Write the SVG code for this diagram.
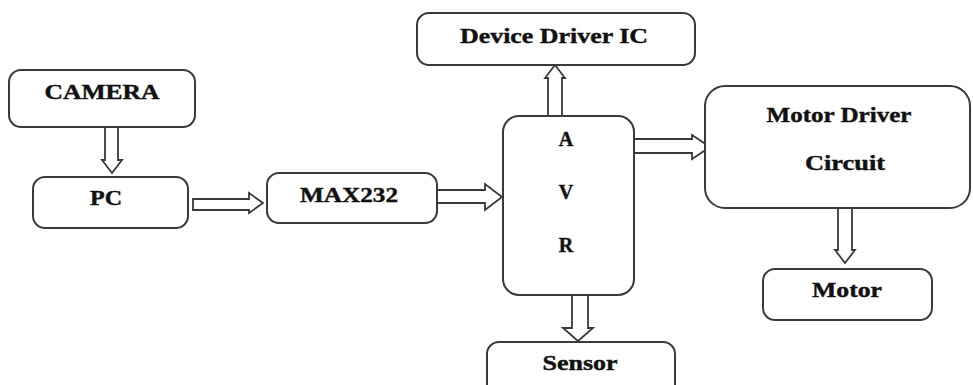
<svg xmlns="http://www.w3.org/2000/svg" width="973" height="385" viewBox="0 0 973 385">
<style>
.box{fill:#fff;stroke:#3a3a3a;stroke-width:2}
.arr{fill:#fff;stroke:#3a3a3a;stroke-width:1.8;stroke-linejoin:miter}
.t{font-family:"Liberation Serif","Times New Roman",serif;font-weight:bold;font-size:20px;fill:#111;stroke:#111;stroke-width:0.4;text-anchor:middle}
</style>
<rect width="973" height="385" fill="#fff"/>
<g id="connectors">
<polygon class="arr" points="105,127 118,127 118,160 122,160 112,173 102,160 105,160"/>
<polygon class="arr" points="193,199 249,199 249,193 263,203 249,213 249,210 193,210"/>
<polygon class="arr" points="437,190 485,190 485,184 502,197 485,210 485,203 437,203"/>
<polygon class="arr" points="634,139 692,139 692,135 710,147 692,159 692,153 634,153"/>
<polygon class="arr" points="548,116 548,78 545,78 555,65 565,78 562,78 562,116"/>
<polygon class="arr" points="572,295 588,295 588,328 593,328 578,341 563,328 572,328"/>
<polygon class="arr" points="838,208 852,208 852,250 855,250 845,263 835,250 838,250"/>
</g>
<g id="camera"><rect class="box" x="9" y="70" width="186" height="57" rx="12"/><text class="t" x="102" y="99" textLength="115" lengthAdjust="spacingAndGlyphs">CAMERA</text></g>
<g id="pc"><rect class="box" x="33" y="177" width="155" height="51" rx="12"/><text class="t" x="106" y="205" textLength="32" lengthAdjust="spacingAndGlyphs">PC</text></g>
<g id="max232"><rect class="box" x="267" y="173" width="170" height="50" rx="12"/><text class="t" x="349" y="202" textLength="98" lengthAdjust="spacingAndGlyphs">MAX232</text></g>
<g id="avr"><rect class="box" x="503" y="116" width="131" height="179" rx="16"/>
<text class="t" x="566" y="146">A</text><text class="t" x="566" y="199">V</text><text class="t" x="566" y="252">R</text></g>
<g id="device-driver"><rect class="box" x="417" y="13" width="278" height="52" rx="12"/><text class="t" x="554" y="43" textLength="188" lengthAdjust="spacingAndGlyphs">Device Driver IC</text></g>
<g id="motor-driver"><rect class="box" x="705" y="86" width="265" height="122" rx="20"/>
<text class="t" x="839" y="122" textLength="145" lengthAdjust="spacingAndGlyphs">Motor Driver</text>
<text class="t" x="845" y="170" textLength="80" lengthAdjust="spacingAndGlyphs">Circuit</text></g>
<g id="motor"><rect class="box" x="763" y="269" width="169" height="51" rx="12"/><text class="t" x="847" y="297" textLength="70" lengthAdjust="spacingAndGlyphs">Motor</text></g>
<g id="sensor"><rect class="box" x="487" y="342" width="188" height="55" rx="12"/><text class="t" x="580" y="370" textLength="75" lengthAdjust="spacingAndGlyphs">Sensor</text></g>
</svg>
